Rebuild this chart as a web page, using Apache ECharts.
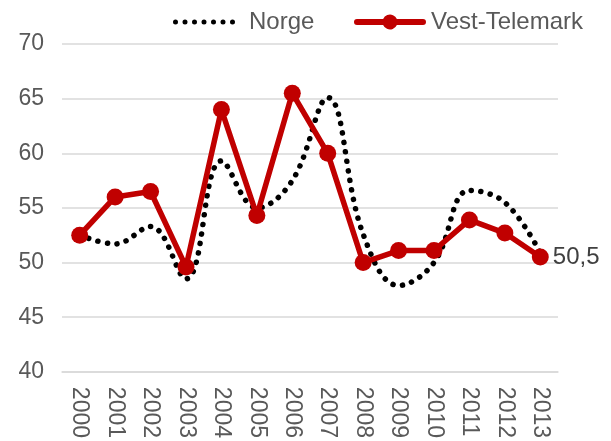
<!DOCTYPE html>
<html>
<head>
<meta charset="utf-8">
<script src="https://cdn.jsdelivr.net/npm/echarts@6/dist/echarts.min.js"></script>
<style>
  html, body { margin: 0; padding: 0; background: #ffffff; }
  #chart { width: 611px; height: 441px; }
</style>
</head>
<body>
<div id="chart"></div>
<script>
// Years on the category axis
const years = ['2000','2001','2002','2003','2004','2005','2006','2007','2008','2009','2010','2011','2012','2013'];
// National level (smoothed dotted line)
const norge = [52.5, 51.7, 53.3, 48.5, 59.3, 55.0, 57.5, 65.1, 52.6, 47.9, 50.0, 56.6, 55.5, 50.9];
// Regional level (solid red line with markers)
const vestTelemark = [52.5, 56.0, 56.5, 49.6, 64.0, 54.3, 65.5, 60.0, 50.0, 51.1, 51.1, 53.9, 52.7, 50.5];

const chart = echarts.init(document.getElementById('chart'));
const fontFamily = 'Liberation Sans, Arial, sans-serif';
const textGrey = '#595959';

// Legend icon: a row of seven round dots
let dotsIcon = 'path://';
for (let k = 0; k < 7; k++) {
  const cx = 2.5 + 9.5 * k;
  dotsIcon += 'M' + (cx - 2.5) + ',2.5 a2.5,2.5 0 1,0 5,0 a2.5,2.5 0 1,0 -5,0 Z ';
}
// Legend icon: thick rounded line with a circle marker in the middle
const lineMarkerIcon = 'path://M3,4.5 L29.126,4.5 A7.5,7.5 0 0,1 42.874,4.5 L69,4.5 ' +
  'A3,3 0 0,1 69,10.5 L42.874,10.5 A7.5,7.5 0 0,1 29.126,10.5 L3,10.5 A3,3 0 0,1 3,4.5 Z';

const legendText = { fontSize: 24, color: textGrey, fontFamily: fontFamily };

chart.setOption({
  animation: false,
  textStyle: { fontFamily: fontFamily },
  legend: [
    {
      top: 5,
      left: 168,
      itemWidth: 80,
      itemHeight: 5,
      textStyle: legendText,
      data: [{ name: 'Norge', icon: dotsIcon, itemStyle: { color: '#000000', borderWidth: 0 } }]
    },
    {
      top: 5,
      left: 349,
      itemWidth: 72,
      itemHeight: 15,
      textStyle: legendText,
      data: [{ name: 'Vest-Telemark', icon: lineMarkerIcon, itemStyle: { color: '#c00000', borderWidth: 0 } }]
    }
  ],
  grid: { left: 62, right: 53, top: 44, bottom: 69 },
  xAxis: {
    type: 'category',
    data: years,
    boundaryGap: true,
    axisLine: { lineStyle: { color: '#d9d9d9', width: 1.5 } },
    axisTick: { show: false },
    axisLabel: { rotate: -90, fontSize: 23, color: textGrey, margin: 15, fontFamily: fontFamily }
  },
  yAxis: {
    type: 'value',
    min: 40,
    max: 70,
    interval: 5,
    axisLine: { show: false },
    axisTick: { show: false },
    splitLine: { lineStyle: { color: '#d9d9d9', width: 1.5 } },
    axisLabel: { fontSize: 23, color: textGrey, margin: 18, fontFamily: fontFamily }
  },
  series: [
    {
      name: 'Norge',
      type: 'line',
      data: norge,
      smooth: 0.4,
      symbol: 'none',
      itemStyle: { color: '#000000' },
      lineStyle: { color: '#000000', width: 5.5, type: [0.1, 9.5], cap: 'round' },
      z: 2
    },
    {
      name: 'Vest-Telemark',
      type: 'line',
      data: vestTelemark,
      symbol: 'circle',
      symbolSize: 17,
      itemStyle: { color: '#c00000' },
      lineStyle: { color: '#c00000', width: 5.5 },
      z: 3,
      label: {
        show: true,
        position: 'right',
        distance: 4,
        fontSize: 24,
        color: '#404040',
        fontFamily: fontFamily,
        formatter: function (p) {
          return p.dataIndex === years.length - 1 ? String(p.value).replace('.', ',') : '';
        }
      }
    }
  ]
});
</script>
</body>
</html>
